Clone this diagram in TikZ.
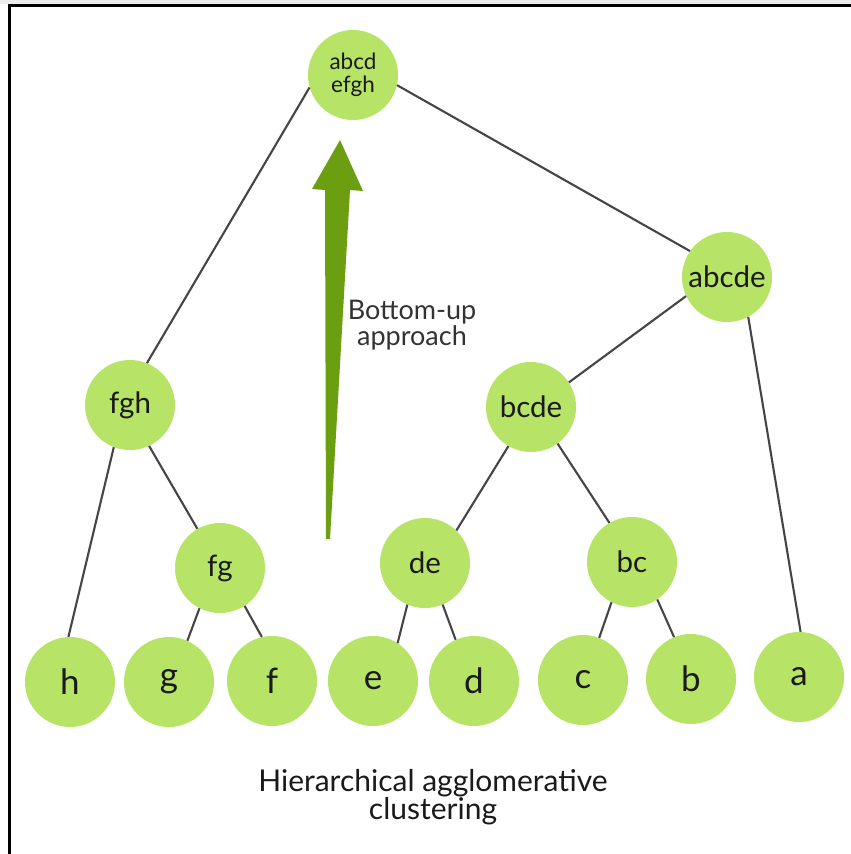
\documentclass[tikz,border=0pt]{standalone}
\usepackage{fontspec}
\setmainfont{Lato}
\definecolor{nodegreen}{HTML}{B7E466}
\definecolor{arrowgreen}{HTML}{6B9E10}
\definecolor{linegray}{HTML}{454545}
\definecolor{txt}{HTML}{1A1A1A}
\begin{document}
\begin{tikzpicture}[x=1pt,y=-1pt,
  clus/.style={circle, fill=nodegreen, minimum size=90pt, inner sep=0pt, text=txt, font=\fontsize{29.5}{30}\selectfont},
  leaf/.style={clus, font=\fontsize{35}{36}\selectfont},
  link/.style={draw=linegray, line width=2.1pt}]
\useasboundingbox (0,0) rectangle (851,854);
\fill[white] (0,0) rectangle (851,854);
\fill[gray!15] (0,0) rectangle (851,4);
\draw[line width=2.6pt, line cap=rect] (9.5,854) -- (9.5,5.5) -- (851,5.5);

% arrow
\fill[arrowgreen] (326,539) -- (325,190) -- (312,189) -- (340,140) -- (363,191) -- (350,190) -- (330,539) -- cycle;

\node[clus, font=\fontsize{22.5}{22.5}\selectfont, align=center] (all) at (353,75) {abcd\\efgh};
\node[clus] (abcde) at (727,277) {abcde};
\node[clus] (fgh) at (130,405) {fgh};
\node[clus] (bcde) at (531,407) {bcde};
\node[clus] (fg) at (220,568) {fg};
\node[clus] (de) at (425,563) {de};
\node[clus] (bc) at (632,562) {bc};

\node[leaf] (h) at (70,682) {h};
\node[leaf] (g) at (169,682) {g};
\node[leaf] (f) at (272,681) {f};
\node[leaf] (e) at (373,681) {e};
\node[leaf] (d) at (474,681) {d};
\node[leaf] (c) at (583,680) {c};
\node[leaf] (b) at (691,679) {b};
\node[leaf] (a) at (799,677) {a};

\path[link] (all.196) -- (fgh.68);
\path[link] (all.-13) -- (abcde.145);
\path[link] (fgh.-111) -- (h.92);
\path[link] (fgh.-65) -- (fg.120);
\path[link] (fg.-117) -- (g.66);
\path[link] (fg.-57) -- (f.103);
\path[link] (abcde.205) -- (bcde.33);
\path[link] (abcde.-62) -- (a.88);
\path[link] (bcde.-120) -- (de.46);
\path[link] (bcde.-54) -- (bc.120);
\path[link] (de.-113) -- (e.57);
\path[link] (de.-67) -- (d.114);
\path[link] (bc.-117) -- (c.69);
\path[link] (bc.-56) -- (b.112);

\node[text=black!80, font=\fontsize{27}{26}\selectfont, align=center] (bu) at (412,325) {Bottom-up\\approach};
\node[text=txt, font=\fontsize{30}{28}\selectfont, align=center] (title) at (433,797) {Hierarchical agglomerative\\clustering};
\end{tikzpicture}
\end{document}
